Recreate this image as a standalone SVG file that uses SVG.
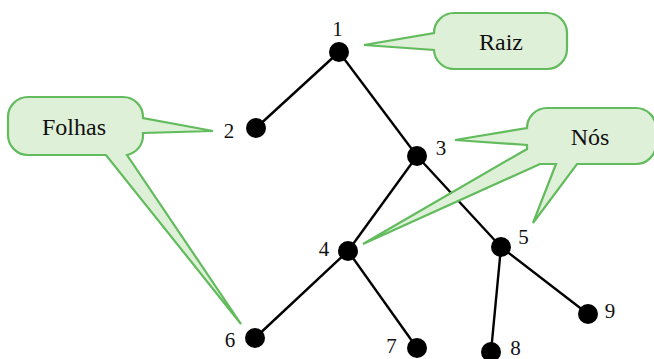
<svg xmlns="http://www.w3.org/2000/svg" width="654" height="359" viewBox="0 0 654 359">
<style>
.edge{stroke:#000;stroke-width:2.4;fill:none}
.node{fill:#000}
.lbl{font-size:21px;fill:#111;text-anchor:middle}
.call{fill:#dff0d8;stroke:#62bb5d;stroke-width:2.2;stroke-linejoin:miter}
.ctext{font-size:24px;fill:#111;text-anchor:middle}
</style>
<rect width="654" height="359" fill="#fff"/>
<g id="connectors">
<line class="edge" x1="339" y1="52" x2="256" y2="128"/>
<line class="edge" x1="339" y1="52" x2="417" y2="156"/>
<line class="edge" x1="417" y1="156" x2="348" y2="251"/>
<line class="edge" x1="417" y1="156" x2="501" y2="247"/>
<line class="edge" x1="348" y1="251" x2="255" y2="338"/>
<line class="edge" x1="348" y1="251" x2="417" y2="348"/>
<line class="edge" x1="501" y1="247" x2="491" y2="352"/>
<line class="edge" x1="501" y1="247" x2="588" y2="314"/>
</g>
<g font-family="Liberation Serif, Times New Roman, serif">
<g id="n1"><circle class="node" cx="339" cy="52" r="10"/><text class="lbl" x="337.5" y="36">1</text></g>
<g id="n2"><circle class="node" cx="256" cy="128" r="10"/><text class="lbl" x="229" y="138">2</text></g>
<g id="n3"><circle class="node" cx="417" cy="156" r="10"/><text class="lbl" x="441" y="155">3</text></g>
<g id="n4"><circle class="node" cx="348" cy="251" r="10"/><text class="lbl" x="324" y="256">4</text></g>
<g id="n5"><circle class="node" cx="501" cy="247" r="10"/><text class="lbl" x="523.5" y="244">5</text></g>
<g id="n6"><circle class="node" cx="255" cy="338" r="10"/><text class="lbl" x="230" y="347">6</text></g>
<g id="n7"><circle class="node" cx="417" cy="348" r="10"/><text class="lbl" x="391.5" y="353">7</text></g>
<g id="n8"><circle class="node" cx="491" cy="352" r="10"/><text class="lbl" x="515.5" y="355">8</text></g>
<g id="n9"><circle class="node" cx="588" cy="314" r="10"/><text class="lbl" x="610" y="318">9</text></g>
<g id="raiz">
<path class="call" d="M454,13 H547 A20,20 0 0 1 567,33 V49 A20,20 0 0 1 547,69 H454 A20,20 0 0 1 434,50 L364,45 L434,33 A20,20 0 0 1 454,13 Z"/>
<text class="ctext" x="501" y="50">Raiz</text>
</g>
<g id="folhas">
<path class="call" d="M28,97 H123 A20,20 0 0 1 143,117 V118 L213,131 L143,133 V135 A20,20 0 0 1 127,155 L241,324 L106,155 H28 A20,20 0 0 1 8,135 V117 A20,20 0 0 1 28,97 Z"/>
<text class="ctext" x="74" y="135">Folhas</text>
</g>
<g id="nos">
<path class="call" d="M547,108 H636 A20,20 0 0 1 656,128 V144 A20,20 0 0 1 636,164 H577 L533,223 L556,164 H540 L363,244 L527,149 V145 L455,140 L527,128 A20,20 0 0 1 547,108 Z"/>
<text class="ctext" x="590" y="145">Nós</text>
</g>
</g>
</svg>
